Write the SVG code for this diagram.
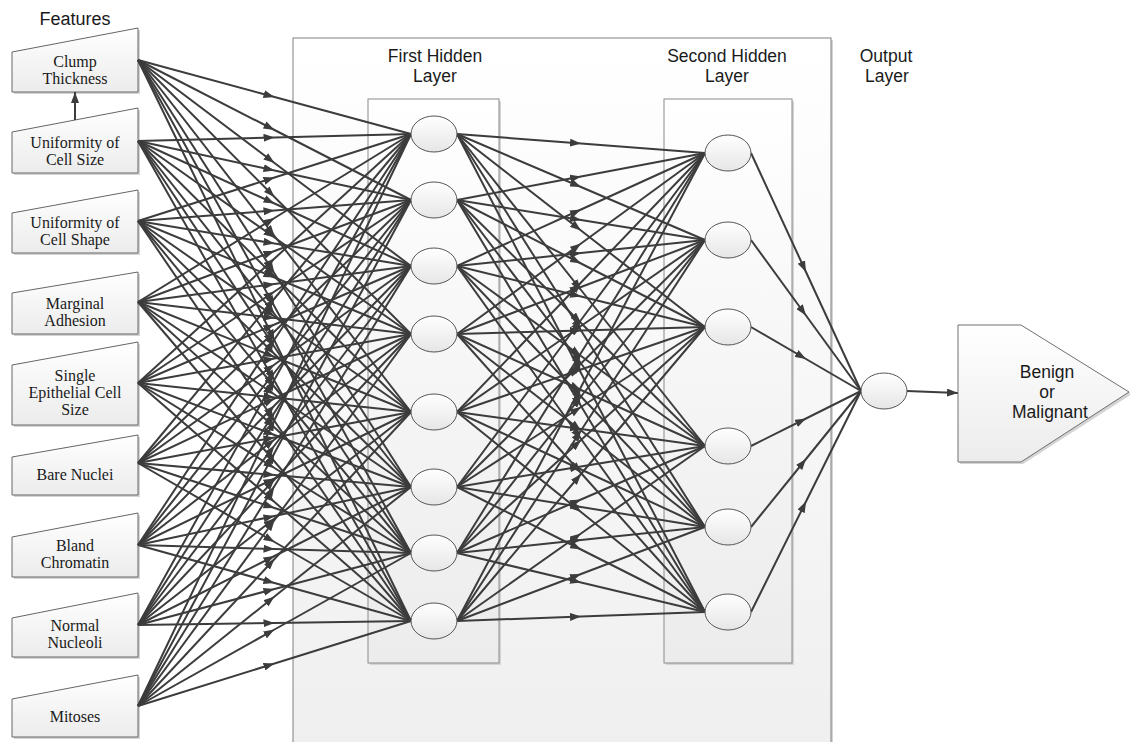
<svg xmlns="http://www.w3.org/2000/svg" width="1130" height="742" viewBox="0 0 1130 742">
<defs>
<linearGradient id="gBig" x1="0" y1="0" x2="0" y2="1"><stop offset="0" stop-color="#ffffff"/><stop offset="1" stop-color="#efefef"/></linearGradient>
<linearGradient id="gBox" x1="0" y1="0" x2="0" y2="1"><stop offset="0" stop-color="#ffffff"/><stop offset="1" stop-color="#ececec"/></linearGradient>
<linearGradient id="gNode" x1="0" y1="0" x2="0" y2="1"><stop offset="0" stop-color="#ffffff"/><stop offset="1" stop-color="#e6e6e6"/></linearGradient>
<marker id="ah" viewBox="0 0 11 8" refX="11" refY="4" markerWidth="11" markerHeight="8" markerUnits="userSpaceOnUse" orient="auto"><path d="M0,0L11,4L0,8z" fill="#3c3c3c"/></marker>
</defs>
<style>
.feat{fill:url(#gBox);stroke:#666666;stroke-width:1}
.sh{fill:#d4d4d4;stroke:none}
.node{fill:url(#gNode);stroke:#555555;stroke-width:1}
.lay{fill:url(#gBox);stroke:#8a8a8a;stroke-width:1}
.ser{font-family:"Liberation Serif","Times New Roman",serif;font-size:16px;fill:#1a1a1a;text-anchor:middle}
.sans{font-family:"Liberation Sans",Arial,sans-serif;font-size:17.5px;fill:#1a1a1a;text-anchor:middle}
#connectors path{fill:none;stroke:#3c3c3c;stroke-width:2;marker-mid:url(#ah)}
.endarrow{fill:none;stroke:#3c3c3c;stroke-width:2;marker-end:url(#ah)}
</style>
<rect width="1130" height="742" fill="#ffffff"/>

<g id="outer-frame">
<rect x="295" y="40" width="538" height="720" class="sh"/>
<rect x="293" y="38" width="538" height="720" fill="url(#gBig)" stroke="#808080" stroke-width="1"/>
</g>
<g id="first-hidden-layer">
<rect x="370" y="101" width="131" height="564" class="sh"/>
<rect x="368" y="99" width="131" height="564" class="lay"/>
<text class="sans" x="435" y="62">First Hidden</text>
<text class="sans" x="435" y="82">Layer</text>
</g>
<g id="second-hidden-layer">
<rect x="666" y="101" width="128" height="564" class="sh"/>
<rect x="664" y="99" width="128" height="564" class="lay"/>
<text class="sans" x="727" y="62">Second Hidden</text>
<text class="sans" x="727" y="82">Layer</text>
</g>
<g id="output-label">
<text class="sans" x="886" y="62">Output</text>
<text class="sans" x="887" y="82">Layer</text>
</g>
<g id="features-title"><text class="sans" x="75" y="25" style="font-size:18px">Features</text></g>

<g id="f1"><path class="sh" d="M14,54L140,30L140,94L14,94Z"/><path class="feat" d="M12,52L138,28L138,92L12,92Z"/><text class="ser" x="75" y="67">Clump</text><text class="ser" x="75" y="84">Thickness</text></g>
<g id="f2"><path class="sh" d="M14,134L140,110L140,175L14,175Z"/><path class="feat" d="M12,132L138,108L138,173L12,173Z"/><text class="ser" x="75" y="148">Uniformity of</text><text class="ser" x="75" y="165">Cell Size</text></g>
<g id="f3"><path class="sh" d="M14,215L140,192L140,255L14,255Z"/><path class="feat" d="M12,213L138,190L138,253L12,253Z"/><text class="ser" x="75" y="228">Uniformity of</text><text class="ser" x="75" y="245">Cell Shape</text></g>
<g id="f4"><path class="sh" d="M14,295L140,274L140,336L14,336Z"/><path class="feat" d="M12,293L138,272L138,334L12,334Z"/><text class="ser" x="75" y="309">Marginal</text><text class="ser" x="75" y="326">Adhesion</text></g>
<g id="f5"><path class="sh" d="M14,367L140,344L140,427L14,427Z"/><path class="feat" d="M12,365L138,342L138,425L12,425Z"/><text class="ser" x="75" y="381">Single</text><text class="ser" x="75" y="398">Epithelial Cell</text><text class="ser" x="75" y="415">Size</text></g>
<g id="f6"><path class="sh" d="M14,459L140,437L140,497L14,497Z"/><path class="feat" d="M12,457L138,435L138,495L12,495Z"/><text class="ser" x="75" y="480">Bare Nuclei</text></g>
<g id="f7"><path class="sh" d="M14,539L140,515L140,579L14,579Z"/><path class="feat" d="M12,537L138,513L138,577L12,577Z"/><text class="ser" x="75" y="551">Bland</text><text class="ser" x="75" y="568">Chromatin</text></g>
<g id="f8"><path class="sh" d="M14,620L140,595L140,659L14,659Z"/><path class="feat" d="M12,618L138,593L138,657L12,657Z"/><text class="ser" x="75" y="631">Normal</text><text class="ser" x="75" y="648">Nucleoli</text></g>
<g id="f9"><path class="sh" d="M14,701L140,677L140,739L14,739Z"/><path class="feat" d="M12,699L138,675L138,737L12,737Z"/><text class="ser" x="75" y="722">Mitoses</text></g>

<g id="connectors">
<path d="M138,60L274.5,97L411,134"/><path d="M138,60L274.5,130L411,200"/><path d="M138,60L274.5,163L411,266"/><path d="M138,60L274.5,197L411,334"/><path d="M138,60L274.5,236L411,412"/><path d="M138,60L274.5,273.5L411,487"/><path d="M138,60L274.5,306.5L411,553"/><path d="M138,60L274.5,340.5L411,621"/>
<path d="M138,141L274.5,137.5L411,134"/><path d="M138,141L274.5,170.5L411,200"/><path d="M138,141L274.5,203.5L411,266"/><path d="M138,141L274.5,237.5L411,334"/><path d="M138,141L274.5,276.5L411,412"/><path d="M138,141L274.5,314L411,487"/><path d="M138,141L274.5,347L411,553"/><path d="M138,141L274.5,381L411,621"/>
<path d="M138,221L274.5,177.5L411,134"/><path d="M138,221L274.5,210.5L411,200"/><path d="M138,221L274.5,243.5L411,266"/><path d="M138,221L274.5,277.5L411,334"/><path d="M138,221L274.5,316.5L411,412"/><path d="M138,221L274.5,354L411,487"/><path d="M138,221L274.5,387L411,553"/><path d="M138,221L274.5,421L411,621"/>
<path d="M138,302L274.5,218L411,134"/><path d="M138,302L274.5,251L411,200"/><path d="M138,302L274.5,284L411,266"/><path d="M138,302L274.5,318L411,334"/><path d="M138,302L274.5,357L411,412"/><path d="M138,302L274.5,394.5L411,487"/><path d="M138,302L274.5,427.5L411,553"/><path d="M138,302L274.5,461.5L411,621"/>
<path d="M138,383L274.5,258.5L411,134"/><path d="M138,383L274.5,291.5L411,200"/><path d="M138,383L274.5,324.5L411,266"/><path d="M138,383L274.5,358.5L411,334"/><path d="M138,383L274.5,397.5L411,412"/><path d="M138,383L274.5,435L411,487"/><path d="M138,383L274.5,468L411,553"/><path d="M138,383L274.5,502L411,621"/>
<path d="M138,463L274.5,298.5L411,134"/><path d="M138,463L274.5,331.5L411,200"/><path d="M138,463L274.5,364.5L411,266"/><path d="M138,463L274.5,398.5L411,334"/><path d="M138,463L274.5,437.5L411,412"/><path d="M138,463L274.5,475L411,487"/><path d="M138,463L274.5,508L411,553"/><path d="M138,463L274.5,542L411,621"/>
<path d="M138,545L274.5,339.5L411,134"/><path d="M138,545L274.5,372.5L411,200"/><path d="M138,545L274.5,405.5L411,266"/><path d="M138,545L274.5,439.5L411,334"/><path d="M138,545L274.5,478.5L411,412"/><path d="M138,545L274.5,516L411,487"/><path d="M138,545L274.5,549L411,553"/><path d="M138,545L274.5,583L411,621"/>
<path d="M138,625L274.5,379.5L411,134"/><path d="M138,625L274.5,412.5L411,200"/><path d="M138,625L274.5,445.5L411,266"/><path d="M138,625L274.5,479.5L411,334"/><path d="M138,625L274.5,518.5L411,412"/><path d="M138,625L274.5,556L411,487"/><path d="M138,625L274.5,589L411,553"/><path d="M138,625L274.5,623L411,621"/>
<path d="M138,706L274.5,420L411,134"/><path d="M138,706L274.5,453L411,200"/><path d="M138,706L274.5,486L411,266"/><path d="M138,706L274.5,520L411,334"/><path d="M138,706L274.5,559L411,412"/><path d="M138,706L274.5,596.5L411,487"/><path d="M138,706L274.5,629.5L411,553"/><path d="M138,706L274.5,663.5L411,621"/>

<path d="M457,134L581,143.5L705,153"/><path d="M457,134L581,187L705,240"/><path d="M457,134L581,230.5L705,327"/><path d="M457,134L581,290L705,446"/><path d="M457,134L581,330.5L705,527"/><path d="M457,134L581,373L705,612"/>
<path d="M457,200L581,176.5L705,153"/><path d="M457,200L581,220L705,240"/><path d="M457,200L581,263.5L705,327"/><path d="M457,200L581,323L705,446"/><path d="M457,200L581,363.5L705,527"/><path d="M457,200L581,406L705,612"/>
<path d="M457,266L581,209.5L705,153"/><path d="M457,266L581,253L705,240"/><path d="M457,266L581,296.5L705,327"/><path d="M457,266L581,356L705,446"/><path d="M457,266L581,396.5L705,527"/><path d="M457,266L581,439L705,612"/>
<path d="M457,334L581,243.5L705,153"/><path d="M457,334L581,287L705,240"/><path d="M457,334L581,330.5L705,327"/><path d="M457,334L581,390L705,446"/><path d="M457,334L581,430.5L705,527"/><path d="M457,334L581,473L705,612"/>
<path d="M457,412L581,282.5L705,153"/><path d="M457,412L581,326L705,240"/><path d="M457,412L581,369.5L705,327"/><path d="M457,412L581,429L705,446"/><path d="M457,412L581,469.5L705,527"/><path d="M457,412L581,512L705,612"/>
<path d="M457,487L581,320L705,153"/><path d="M457,487L581,363.5L705,240"/><path d="M457,487L581,407L705,327"/><path d="M457,487L581,466.5L705,446"/><path d="M457,487L581,507L705,527"/><path d="M457,487L581,549.5L705,612"/>
<path d="M457,553L581,353L705,153"/><path d="M457,553L581,396.5L705,240"/><path d="M457,553L581,440L705,327"/><path d="M457,553L581,499.5L705,446"/><path d="M457,553L581,540L705,527"/><path d="M457,553L581,582.5L705,612"/>
<path d="M457,621L581,387L705,153"/><path d="M457,621L581,430.5L705,240"/><path d="M457,621L581,474L705,327"/><path d="M457,621L581,533.5L705,446"/><path d="M457,621L581,574L705,527"/><path d="M457,621L581,616.5L705,612"/>

<path d="M751,153L806,272L861,391"/><path d="M751,240L806,315.5L861,391"/><path d="M751,327L806,359L861,391"/><path d="M751,446L806,418.5L861,391"/><path d="M751,527L806,459L861,391"/><path d="M751,612L806,501.5L861,391"/>
</g>
<path class="endarrow" d="M75,120L75,92"/>
<path class="endarrow" d="M907,391L958,393"/>

<g id="h1-1"><ellipse class="node" cx="434" cy="134" rx="23" ry="18"/></g>
<g id="h1-2"><ellipse class="node" cx="434" cy="200" rx="23" ry="18"/></g>
<g id="h1-3"><ellipse class="node" cx="434" cy="266" rx="23" ry="18"/></g>
<g id="h1-4"><ellipse class="node" cx="434" cy="334" rx="23" ry="18"/></g>
<g id="h1-5"><ellipse class="node" cx="434" cy="412" rx="23" ry="18"/></g>
<g id="h1-6"><ellipse class="node" cx="434" cy="487" rx="23" ry="18"/></g>
<g id="h1-7"><ellipse class="node" cx="434" cy="553" rx="23" ry="18"/></g>
<g id="h1-8"><ellipse class="node" cx="434" cy="621" rx="23" ry="18"/></g>

<g id="h2-1"><ellipse class="node" cx="728" cy="153" rx="23" ry="18"/></g>
<g id="h2-2"><ellipse class="node" cx="728" cy="240" rx="23" ry="18"/></g>
<g id="h2-3"><ellipse class="node" cx="728" cy="327" rx="23" ry="18"/></g>
<g id="h2-4"><ellipse class="node" cx="728" cy="446" rx="23" ry="18"/></g>
<g id="h2-5"><ellipse class="node" cx="728" cy="527" rx="23" ry="18"/></g>
<g id="h2-6"><ellipse class="node" cx="728" cy="612" rx="23" ry="18"/></g>

<g id="output-node"><ellipse class="node" cx="884" cy="391" rx="23" ry="18"/></g>

<g id="result">
<path class="sh" d="M960,327L1023,327L1132,394L1023,464L960,464Z"/>
<path d="M958,325L1021,325L1129,392L1021,462L958,462Z" fill="url(#gBox)" stroke="#707070" stroke-width="1"/>
<text class="sans" x="1047" y="378">Benign</text>
<text class="sans" x="1047" y="398">or</text>
<text class="sans" x="1050" y="418">Malignant</text>
</g>
</svg>
